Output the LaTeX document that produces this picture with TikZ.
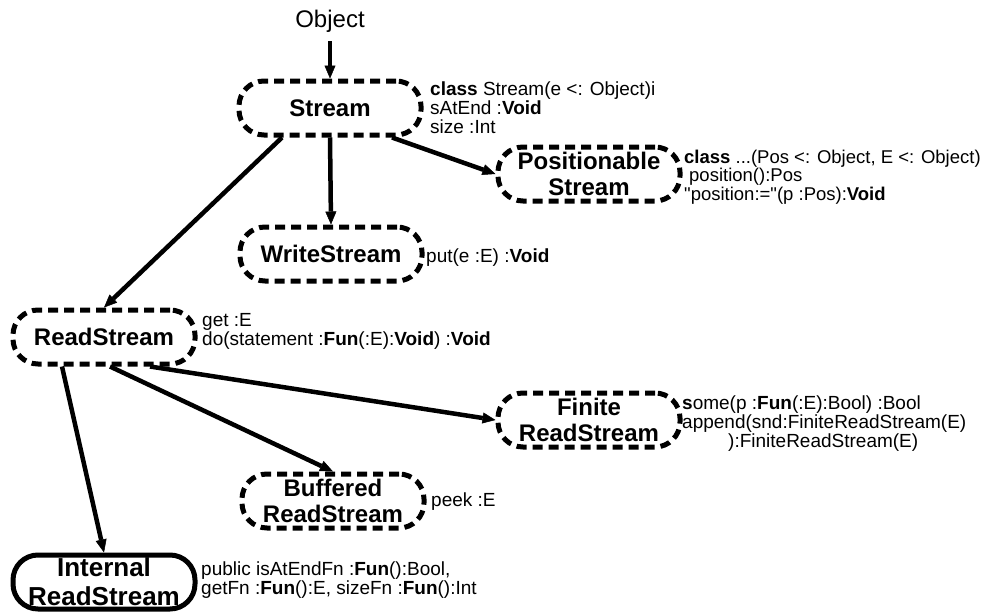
\documentclass[tikz,border=0pt]{standalone}
\usepackage{fontspec}
\setmainfont{Liberation Sans}
\usetikzlibrary{arrows.meta}
\begin{document}
\begin{tikzpicture}[x=1pt,y=-1pt,
  cls/.style={draw, line width=5pt, rounded corners=25pt,
    minimum width=182pt, minimum height=54pt, inner sep=0pt,
    align=center, font=\fontsize{24}{26}\selectfont\bfseries},
  dashedcls/.style={cls, dash pattern=on 10pt off 6pt},
  % member lists are placed by the baseline of their last line
  note/.style={anchor=base west, inner sep=0pt, align=left,
    font=\fontsize{19}{19}\selectfont},
  inh/.style={line width=4.5pt,
    -{Triangle[length=13pt,width=11pt,line width=0.5pt]}}]

\useasboundingbox (0,0) rectangle (986,611);

% class hierarchy
\node[anchor=base, inner sep=0pt, font=\fontsize{24}{26}\selectfont] (obj) at (330,27) {Object};
\node[dashedcls] (stream) at (330,108) {Stream};
\node[dashedcls] (pos) at (589,174) {Positionable\\Stream};
\node[dashedcls] (write) at (331,254) {WriteStream};
\node[dashedcls] (read) at (104,337) {ReadStream};
\node[dashedcls] (fin) at (589,420) {Finite\\ReadStream};
\node[dashedcls] (buf) at (333,501) {Buffered\\ReadStream};
\node[cls, font=\fontsize{26}{29}\selectfont\bfseries] (int) at (104,582) {Internal\\ReadStream};

% member lists
\node[note] (streamnote) at (430,133) {\textbf{class} Stream(e <: Object)i\\sAtEnd :\textbf{Void}\\size :Int};
\node[note, font=\fontsize{18.5}{18.5}\selectfont] (posnote) at (684,200) {\textbf{class} ...(Pos <: Object, E <: Object)\\\hspace*{5pt}position():Pos\\\textquotedbl position:=\textquotedbl(p :Pos):\textbf{Void}};
\node[note] (writenote) at (426,262) {put(e :E) :\textbf{Void}};
\node[note] (readnote) at (202,345) {get :E\\do(statement :\textbf{Fun}(:E):\textbf{Void}) :\textbf{Void}};
\node[note] (finnote) at (682,447) {\textbf{s}ome(p :\textbf{Fun}(:E):Bool) :Bool\\append(snd:FiniteReadStream(E)\\\hspace*{46pt}):FiniteReadStream(E)};
\node[note] (bufnote) at (431,506) {peek :E};
\node[note] (intnote) at (201,594) {public isAtEndFn :\textbf{Fun}():Bool,\\getFn :\textbf{Fun}():E, sizeFn :\textbf{Fun}():Int};

% inheritance arrows
\draw[inh, shorten <=9pt] (obj) -- (stream);
\draw[inh] ([xshift=62pt]stream.south) -- (pos.west);
\draw[inh] (stream.south) -- (write.north);
\draw[inh] ([xshift=-48pt]stream.south) -- (read.north);
\draw[inh] ([xshift=-42pt]read.south) -- (int.north);
\draw[inh] ([xshift=6pt]read.south) -- (buf.north);
\draw[inh] ([xshift=46pt]read.south) -- (fin.west);
\end{tikzpicture}
\end{document}
